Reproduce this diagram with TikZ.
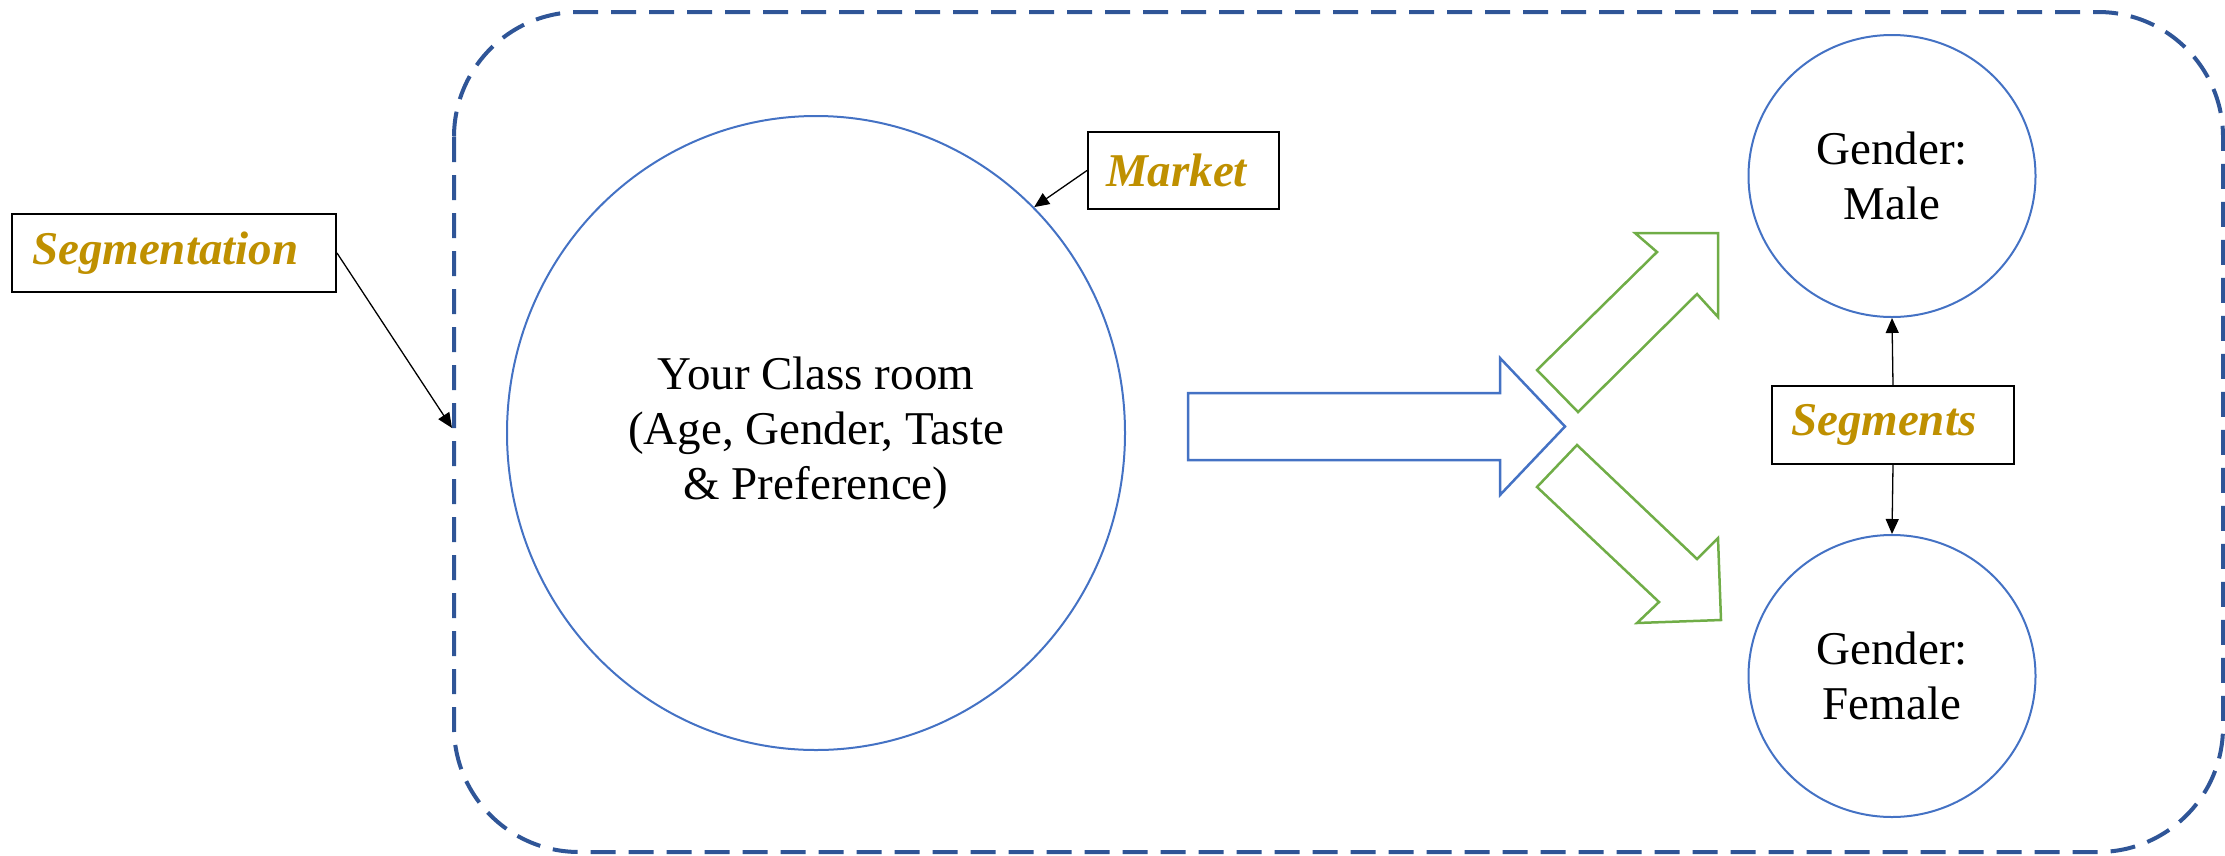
\documentclass[tikz,border=0pt]{standalone}
\usepackage{fontspec}
\setmainfont{Liberation Serif}
\usetikzlibrary{shapes.geometric,arrows.meta}
\definecolor{cblue}{HTML}{4472C4}
\definecolor{dblue}{HTML}{2F5597}
\definecolor{cgreen}{HTML}{70AD47}
\definecolor{gold}{HTML}{BF9000}
\begin{document}
\begin{tikzpicture}[x=1pt,y=-1pt,
  bubble/.style={draw=cblue,line width=2pt,ellipse,inner sep=0pt,align=center,font=\fontsize{47}{55}\selectfont},
  labelbox/.style={draw=black,line width=2pt,anchor=north west,align=left,inner ysep=0pt,text=gold,font=\fontsize{47}{55}\selectfont\bfseries\itshape},
  pointer/.style={line width=1.3pt,-{Triangle[length=15pt,width=13pt]}},
  blockarrow/.style={line width=2.5pt,line join=miter}]
\useasboundingbox (0,0) rectangle (2225,855);
% dashed frame
\draw[dblue,line width=4pt,dash pattern=on 25pt off 13pt,rounded corners=125pt] (454,12) rectangle (2223,852);
% circles
\node[bubble,minimum width=618pt,minimum height=634pt] (main) at (816,433) {Your Class room\\(Age, Gender, Taste\\\& Preference)};
\node[bubble,minimum width=287pt,minimum height=282pt] (male) at (1892,176) {Gender:\\Male};
\node[bubble,minimum width=287pt,minimum height=282pt] (female) at (1892,676) {Gender:\\Female};
% label boxes
\node[labelbox,minimum height=78pt,inner xsep=20pt,text width=284pt] (segm) at (11,213) {Segmentation};
\node[labelbox,minimum height=77pt,inner xsep=18pt,text width=155pt] (mkt) at (1087,131) {Market};
\node[labelbox,minimum height=78pt,inner xsep=19pt,text width=204pt] (segs) at (1771,385) {Segments};
% block arrows
\draw[cblue,blockarrow] (1188,393) -- (1500,393) -- (1500,358) -- (1565,426.5) -- (1500,495) -- (1500,460) -- (1188,460) -- cycle;
\draw[cgreen,blockarrow] (1537,370) -- (1657,252) -- (1635,233) -- (1718,233) -- (1718,317) -- (1697,294) -- (1578,412) -- cycle;
\draw[cgreen,blockarrow] (1537,487) -- (1577,445) -- (1697,559) -- (1718,538) -- (1721,620) -- (1637,623) -- (1659,602) -- cycle;
% pointers
\coordinate (segtip) at (452,428);
\draw[pointer] (segm.east) -- (segtip);
\draw[pointer] (mkt.west) -- (main.46);
\draw[pointer] (segs.north) -- (male.south);
\draw[pointer] (segs.south) -- (female.north);
\end{tikzpicture}
\end{document}
